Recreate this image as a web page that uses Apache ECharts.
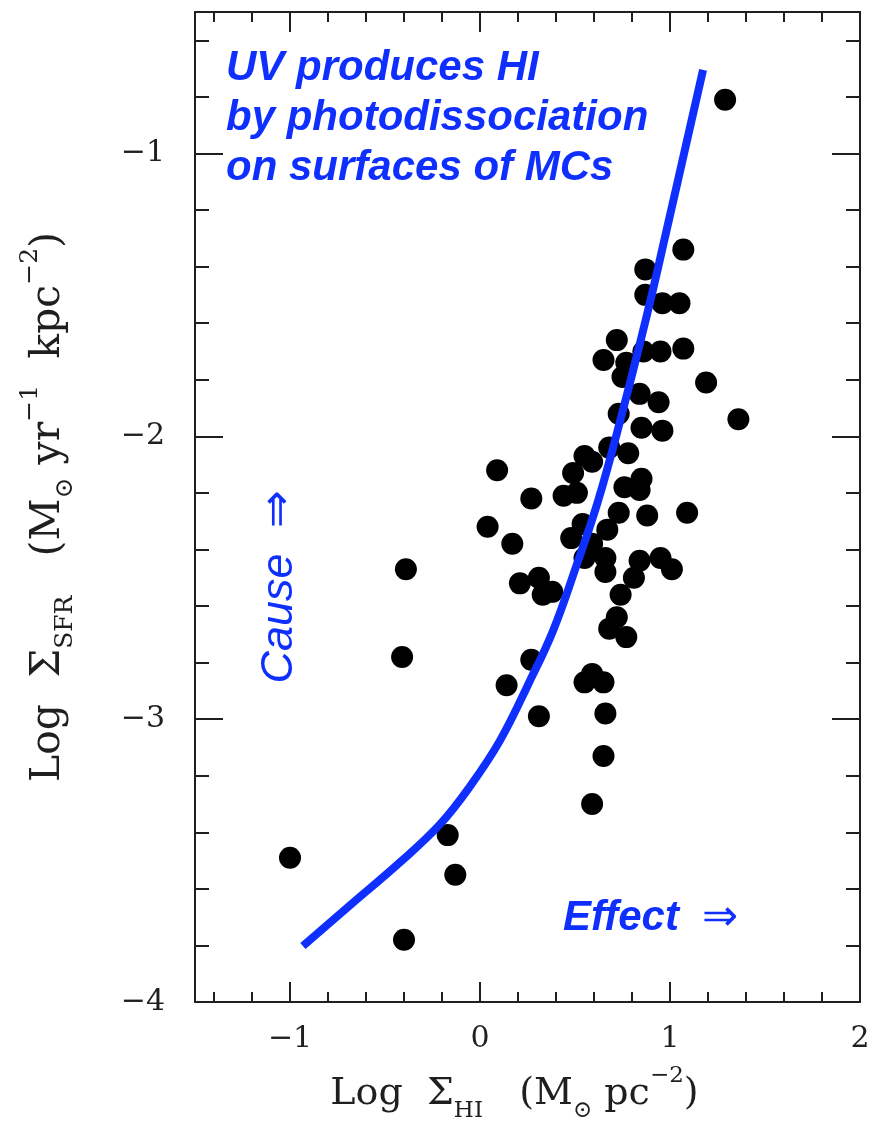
<!DOCTYPE html>
<html>
<head>
<meta charset="utf-8">
<script src="https://cdn.jsdelivr.net/npm/echarts@6/dist/echarts.min.js"></script>
<style>
  html, body { margin: 0; padding: 0; background: #fff; }
  #chart { width: 873px; height: 1126px; }
</style>
</head>
<body>
<div id="chart"></div>
<script>
// Observed galaxies: log HI surface density vs log star-formation surface density
const sigmaHI = [
  1.29, 1.07, 0.87, 0.87, 0.96, 1.05, 0.72, 0.65, 0.86, 0.95,
  1.07, 0.77, 0.75, 1.19, 0.84, 0.94, 1.36, 0.73, 0.85, 0.96,
  0.68, 0.55, 0.78, 0.09, 0.49, 0.59, 0.85, 0.76, 0.84, 0.27,
  0.44, 0.51, 0.73, 0.88, 1.09, 0.04, 0.17, 0.54, 0.48, 0.67,
  0.59, 0.55, 0.66, 0.84, 0.95, 1.01, -0.39, 0.21, 0.31, 0.38,
  0.33, 0.66, 0.74, 0.81, 0.72, 0.68, 0.77, -0.41, 0.27, 0.14,
  0.31, 0.55, 0.59, 0.65, 0.66, 0.65, 0.59, -0.17, -0.13, -1.00,
  -0.40
];
const sigmaSFR = [
  -0.81, -1.34, -1.41, -1.50, -1.53, -1.53, -1.66, -1.73, -1.70, -1.70,
  -1.69, -1.74, -1.79, -1.81, -1.85, -1.88, -1.94, -1.92, -1.97, -1.98,
  -2.04, -2.07, -2.06, -2.12, -2.13, -2.09, -2.15, -2.18, -2.19, -2.22,
  -2.21, -2.20, -2.27, -2.28, -2.27, -2.32, -2.38, -2.31, -2.36, -2.33,
  -2.38, -2.43, -2.43, -2.44, -2.43, -2.47, -2.47, -2.52, -2.50, -2.55,
  -2.56, -2.48, -2.56, -2.50, -2.64, -2.68, -2.71, -2.78, -2.79, -2.88,
  -2.99, -2.87, -2.84, -2.87, -2.98, -3.13, -3.30, -3.41, -3.55, -3.49,
  -3.78
];

// Photodissociation model curve
const modelHI  = [-0.932, -0.684, -0.421, -0.211, -0.053, 0.105, 0.263, 0.384, 0.505, 0.621, 0.737, 0.879, 0.974, 1.174];
const modelSFR = [-3.802, -3.658, -3.506, -3.372, -3.238, -3.076, -2.864, -2.688, -2.462, -2.229, -1.947, -1.570, -1.295, -0.705];

// Axis ticks and labels
const xMajorTicks = [-1, 0, 1, 2];
const xMinorTicks = [-1.4, -1.2, -0.8, -0.6, -0.4, -0.2, 0.2, 0.4, 0.6, 0.8, 1.2, 1.4, 1.6, 1.8];
const xTickLabels = ['\u22121', '0', '1', '2'];
const yMajorTicks = [-4, -3, -2, -1];
const yMinorTicks = [-3.8, -3.6, -3.4, -3.2, -2.8, -2.6, -2.4, -2.2, -1.8, -1.6, -1.4, -1.2, -0.8, -0.6];
const yTickLabels = ['\u22124', '\u22123', '\u22122', '\u22121'];

const X_RANGE = [-1.5, 2];
const Y_RANGE = [-4, -0.5];

const INK = '#1f1f1f';
const BLUE = '#0f2fff';
const SERIF = '"DejaVu Serif", "Liberation Serif", serif';
const SANS = '"Liberation Sans", Arial, sans-serif';

function titleRich(main, small, lh) {
  return {
    m: { fontFamily: SERIF, fontSize: main, lineHeight: lh, color: INK },
    s: { fontFamily: SERIF, fontSize: small, lineHeight: small + 2, verticalAlign: 'bottom', color: INK },
    p: { fontFamily: SERIF, fontSize: small, lineHeight: small + 8, verticalAlign: 'top', color: INK }
  };
}

function frameAxis(kind, position, ticks, tickLen, labels, extra) {
  const isX = kind === 'x';
  const range = isX ? X_RANGE : Y_RANGE;
  const axis = {
    type: 'value',
    position: position,
    min: range[0],
    max: range[1],
    axisLine: { show: !!(extra && extra.line), onZero: false, lineStyle: { color: INK, width: 2 } },
    axisTick: {
      show: true, inside: true, length: tickLen,
      customValues: ticks,
      lineStyle: { color: INK, width: 2 }
    },
    splitLine: { show: false },
    axisLabel: { show: false }
  };
  if (labels) {
    axis.axisLabel = {
      show: true,
      customValues: labels.values,
      formatter: function (v) {
        const i = labels.values.indexOf(v);
        return i >= 0 ? labels.text[i] : '';
      },
      fontFamily: SERIF,
      fontSize: 30,
      color: INK,
      margin: isX ? 22 : 30
    };
  }
  return Object.assign(axis, extra && extra.more);
}

const chart = echarts.init(document.getElementById('chart'), null, { renderer: 'canvas' });

chart.setOption({
  backgroundColor: '#ffffff',
  animation: false,
  grid: { left: 195, right: 13, top: 12, bottom: 124, containLabel: false, outerBoundsMode: 'none' },
  xAxis: [
    frameAxis('x', 'bottom', xMajorTicks, 20, { values: xMajorTicks, text: xTickLabels }, {
      line: true,
      more: {
        name: '{m|Log  \u03a3}{s|HI}{m|   (M}{s|\u2299}{m| pc}{p|\u22122}{m|)}',
        nameLocation: 'middle',
        nameGap: 63,
        nameTextStyle: { rich: titleRich(38, 23, 58), padding: [0, 26, 0, 0] }
      }
    }),
    frameAxis('x', 'bottom', xMinorTicks, 10, null, null),
    frameAxis('x', 'top', xMajorTicks, 20, null, { line: true }),
    frameAxis('x', 'top', xMinorTicks, 10, null, null)
  ],
  yAxis: [
    frameAxis('y', 'left', yMajorTicks, 28, { values: yMajorTicks, text: yTickLabels }, {
      line: true,
      more: {
        name: '{m|Log  \u03a3}{s|SFR}{m|   (M}{s|\u2299}{m| yr}{p|\u22121}{m|  kpc}{p|\u22122}{m|)}',
        nameLocation: 'middle',
        nameGap: 117,
        nameRotate: 90,
        nameTextStyle: { rich: titleRich(41, 25, 60) }
      }
    }),
    frameAxis('y', 'left', yMinorTicks, 14, null, null),
    frameAxis('y', 'right', yMajorTicks, 28, null, { line: true }),
    frameAxis('y', 'right', yMinorTicks, 14, null, null)
  ],
  series: [
    {
      name: 'galaxies',
      type: 'scatter',
      xAxisIndex: 0,
      yAxisIndex: 0,
      symbol: 'circle',
      symbolSize: 22,
      itemStyle: { color: '#000000', opacity: 1 },
      data: sigmaHI.map(function (x, i) { return [x, sigmaSFR[i]]; }),
      z: 2
    },
    {
      name: 'model',
      type: 'line',
      xAxisIndex: 0,
      yAxisIndex: 0,
      showSymbol: false,
      smooth: 0.4,
      lineStyle: { color: BLUE, width: 8, cap: 'butt' },
      data: modelHI.map(function (x, i) { return [x, modelSFR[i]]; }),
      z: 3
    }
  ],
  graphic: [
    {
      type: 'text',
      x: 226,
      y: 43,
      z: 10,
      style: {
        text: 'UV produces HI\nby photodissociation\non surfaces of MCs',
        fill: BLUE,
        fontFamily: SANS,
        fontSize: 42,
        fontWeight: 'bold',
        fontStyle: 'italic',
        lineHeight: 50,
        align: 'left',
        verticalAlign: 'top'
      }
    },
    {
      type: 'text',
      x: 279,
      y: 587,
      rotation: Math.PI / 2,
      z: 10,
      style: {
        text: '{c|Cause  }{a|\u21d2}',
        align: 'center',
        verticalAlign: 'middle',
        rich: {
          c: { fill: BLUE, fontFamily: SANS, fontSize: 45, fontStyle: 'italic' },
          a: { fill: BLUE, fontFamily: SANS, fontSize: 45 }
        }
      }
    },
    {
      type: 'text',
      x: 563,
      y: 918,
      z: 10,
      style: {
        text: '{e|Effect  }{a|\u21d2}',
        align: 'left',
        verticalAlign: 'middle',
        rich: {
          e: { fill: BLUE, fontFamily: SANS, fontSize: 42, fontWeight: 'bold', fontStyle: 'italic' },
          a: { fill: BLUE, fontFamily: SANS, fontSize: 43 }
        }
      }
    }
  ]
});
</script>
</body>
</html>
